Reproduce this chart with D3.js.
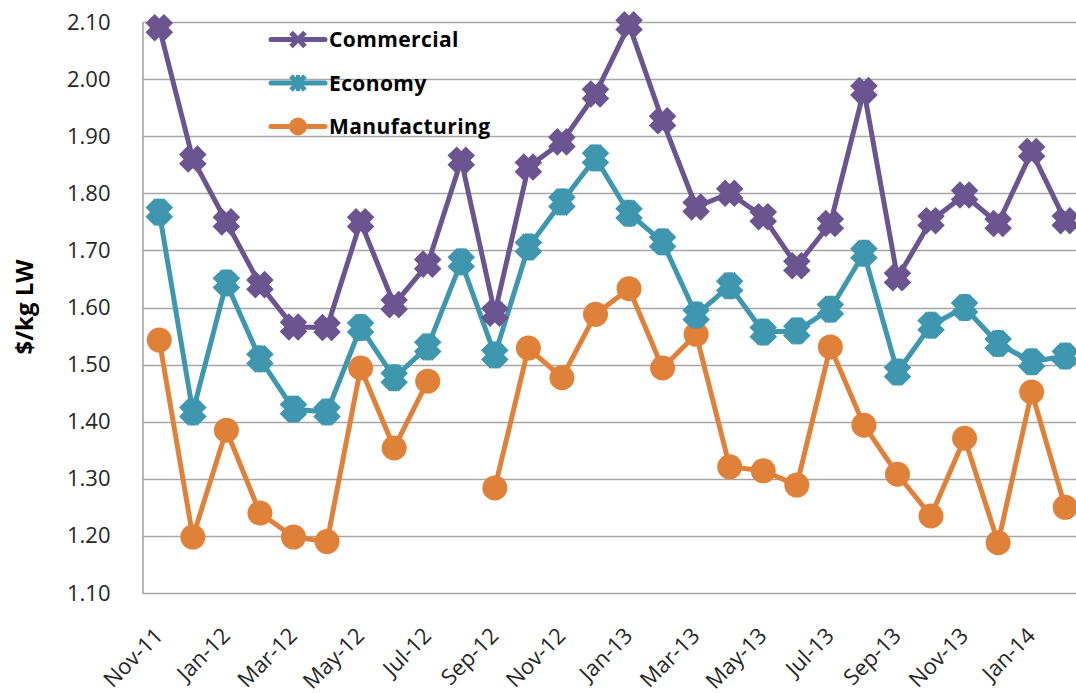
<!DOCTYPE html>
<html><head><meta charset="utf-8">
<script src="https://cdn.jsdelivr.net/npm/d3@7"></script>
<style>
html,body{margin:0;padding:0;background:#fff;}
svg{display:block;}
</style></head>
<body>
<svg id="chart" width="1076" height="693"></svg>
<script>
const months = ["Nov-11","Dec-11","Jan-12","Feb-12","Mar-12","Apr-12","May-12","Jun-12","Jul-12","Aug-12","Sep-12","Oct-12","Nov-12","Dec-12","Jan-13","Feb-13","Mar-13","Apr-13","May-13","Jun-13","Jul-13","Aug-13","Sep-13","Oct-13","Nov-13","Dec-13","Jan-14","Feb-14"];
const commercial = [2.09,1.86,1.75,1.64,1.566,1.565,1.75,1.605,1.676,1.858,1.59,1.846,1.89,1.974,2.095,1.927,1.776,1.80,1.759,1.673,1.747,1.98,1.652,1.752,1.797,1.747,1.873,1.752];
const economy = [1.767,1.417,1.643,1.51,1.422,1.417,1.565,1.477,1.531,1.68,1.517,1.706,1.785,1.862,1.765,1.715,1.587,1.638,1.557,1.559,1.597,1.695,1.487,1.569,1.60,1.537,1.505,1.515];
const manufacturing = [1.543,1.198,1.385,1.24,1.198,1.19,1.494,1.354,1.471,null,1.284,1.529,1.477,1.588,1.633,1.494,1.553,1.321,1.314,1.289,1.531,1.394,1.308,1.235,1.371,1.188,1.452,1.25];
const yTicks = [1.10,1.20,1.30,1.40,1.50,1.60,1.70,1.80,1.90,2.00,2.10];
const xLabels = ["Nov-11","Jan-12","Mar-12","May-12","Jul-12","Sep-12","Nov-12","Jan-13","Mar-13","May-13","Jul-13","Sep-13","Nov-13","Jan-14"];
const seriesNames = ["Commercial","Economy","Manufacturing"];
const seriesColors = ["#6B5590","#3E97AE","#E0813A"];
const seriesMarkers = ["x","star","circle"];

const svg = d3.select("#chart");
const plotLeft = 142.5, plotRight = 1082, plotTop = 22, plotBottom = 593;
const x = d3.scaleBand().domain(months).range([plotLeft, plotRight]);
const y = d3.scaleLinear().domain([1.10, 2.10]).range([plotBottom, plotTop]);
const cx = m => x(m) + x.bandwidth()/2;
const font = "'Open Sans', 'DejaVu Sans', sans-serif";

// gridlines
svg.append("g").selectAll("line").data(yTicks).join("line")
  .attr("x1", plotLeft).attr("x2", plotRight)
  .attr("y1", d => Math.round(y(d)) + 0.5).attr("y2", d => Math.round(y(d)) + 0.5)
  .attr("stroke", "#a6a6a6").attr("stroke-width", 1.6);

// y axis
const yAxis = d3.axisLeft(y).tickValues(yTicks).tickFormat(d3.format(".2f")).tickSize(0).tickPadding(32);
const gy = svg.append("g").attr("transform", `translate(${plotLeft},0)`).call(yAxis);
gy.select(".domain").attr("stroke", "#a6a6a6").attr("stroke-width", 1.6);
gy.selectAll("text").attr("font-family", font).attr("font-size", 22).attr("fill", "#262626");

// x axis labels
const xAxis = d3.axisBottom(x).tickValues(xLabels).tickSize(0).tickPadding(0);
const gx = svg.append("g").attr("transform", `translate(0,${plotBottom})`).call(xAxis);
gx.select(".domain").remove();
gx.selectAll(".tick text")
  .attr("font-family", font).attr("font-size", 22).attr("fill", "#262626")
  .attr("text-anchor", "end")
  .attr("dy", 0)
  .attr("transform", "translate(5,44) rotate(-45)");

// y title
svg.append("text")
  .attr("transform", "translate(33,307) rotate(-90)")
  .attr("text-anchor", "middle")
  .attr("font-family", font).attr("font-size", 24).attr("font-weight", "bold").attr("fill", "#000")
  .text("$/kg LW");

const data = [commercial, economy, manufacturing];

function drawMarker(g, type, color, px, py) {
  const m = g.append("g").attr("transform", `translate(${px},${py})`).attr("fill", color);
  if (type === "circle") {
    m.append("circle").attr("r", 12.5);
  } else {
    [45, -45].forEach(a => {
      m.append("rect").attr("x", -13).attr("y", -6.5).attr("width", 26).attr("height", 13)
        .attr("transform", `rotate(${a})`);
    });
    if (type === "star") {
      m.append("rect").attr("x", -3.5).attr("y", -13.5).attr("width", 7).attr("height", 27);
    }
  }
}

function drawLegendMarker(g, type, color, px, py) {
  const m = g.append("g").attr("transform", `translate(${px},${py})`);
  if (type === "circle") {
    m.append("circle").attr("r", 9).attr("fill", color);
  } else {
    m.append("path").attr("d", "M-7,-7L7,7M-7,7L7,-7")
      .attr("stroke", color).attr("stroke-width", 5).attr("fill", "none");
    if (type === "star") {
      m.append("path").attr("d", "M0,-8L0,8").attr("stroke", color).attr("stroke-width", 4);
    }
  }
}

// series lines and markers (draw manufacturing first so commercial on top)
[2,1,0].forEach(i => {
  const vals = data[i];
  const line = d3.line()
    .defined(d => d != null)
    .x((d, j) => cx(months[j]))
    .y(d => y(d));
  const g = svg.append("g");
  g.append("path").datum(vals).attr("d", line)
    .attr("fill", "none").attr("stroke", seriesColors[i]).attr("stroke-width", 5).attr("stroke-linejoin", "round");
  vals.forEach((v, j) => {
    if (v == null) return;
    drawMarker(g, seriesMarkers[i], seriesColors[i], cx(months[j]), y(v));
  });
});

// legend
const lg = svg.append("g");
seriesNames.forEach((name, i) => {
  const ly = 39.5 + i * 43.5;
  lg.append("line").attr("x1", 271).attr("x2", 325).attr("y1", ly).attr("y2", ly)
    .attr("stroke", seriesColors[i]).attr("stroke-width", 5).attr("stroke-linecap", "round");
  drawLegendMarker(lg, seriesMarkers[i], seriesColors[i], 298, ly);
  lg.append("text").attr("x", 329).attr("y", ly + 7.5)
    .attr("font-family", font).attr("font-size", 21).attr("font-weight", "bold").attr("fill", "#000")
    .attr("letter-spacing", 0.4)
    .text(name);
});
</script>
</body></html>
